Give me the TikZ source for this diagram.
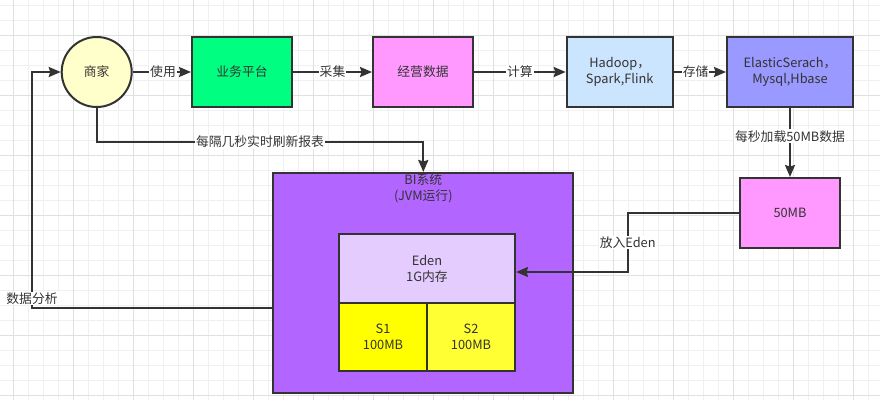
\documentclass[tikz,border=0pt]{standalone}
\usepackage{fontspec}
\setmainfont{Noto Sans CJK SC}
\usetikzlibrary{arrows.meta}
\definecolor{ink}{HTML}{333333}
\definecolor{gridminor}{HTML}{F0F0F0}
\definecolor{gridmajor}{HTML}{E0E0E0}
\definecolor{cshang}{HTML}{FFFFCC}
\definecolor{cyw}{HTML}{00FF80}
\definecolor{cpink}{HTML}{FF99FF}
\definecolor{chd}{HTML}{CCE5FF}
\definecolor{ces}{HTML}{9999FF}
\definecolor{cbi}{HTML}{B266FF}
\definecolor{ceden}{HTML}{E5CCFF}
\definecolor{csone}{HTML}{FFFF00}
\definecolor{cstwo}{HTML}{FFFF33}
\begin{document}
\begin{tikzpicture}[x=1pt,y=-1pt,
  txt/.style={font=\fontsize{12.8}{16}\selectfont, text=ink},
  box/.style={txt, draw=ink, line width=2pt, align=center, inner sep=0pt, rectangle},
  elabel/.style={txt, fill=white, inner sep=1pt},
  conn/.style={draw=ink, line width=2pt, -{Stealth[length=12pt,width=10pt,inset=1.5pt]}},
  line/.style={draw=ink, line width=2pt}]
\useasboundingbox (0,0) rectangle (880,400);
\begin{scope}
\clip (0,0) rectangle (880,400);
\fill[white] (0,0) rectangle (880,400);
\foreach \k in {0,...,59} { \draw[gridminor, line width=1pt] (-2+15*\k,0) -- (-2+15*\k,400); }
\foreach \k in {0,...,26} { \draw[gridminor, line width=1pt] (0,5+15*\k) -- (880,5+15*\k); }
\foreach \k in {0,...,14} { \draw[gridmajor, line width=1pt] (13+60*\k,0) -- (13+60*\k,400); }
\foreach \k in {0,...,6} { \draw[gridmajor, line width=1pt] (0,35+60*\k) -- (880,35+60*\k); }
\end{scope}

\node[txt, circle, draw=ink, line width=2pt, fill=cshang, minimum size=70pt, inner sep=0pt] (shang) at (96.7,72) {商家};
\node[box, fill=cyw, minimum width=100pt, minimum height=70pt] (yw) at (242,72) {业务平台};
\node[box, fill=cpink, minimum width=100pt, minimum height=70pt] (jy) at (423,72) {经营数据};
\node[box, fill=chd, minimum width=106pt, minimum height=70pt] (hd) at (619.7,72) {Hadoop，\\Spark,Flink};
\node[box, fill=ces, minimum width=126pt, minimum height=70pt] (es) at (790,72) {ElasticSerach，\\Mysql,Hbase};
\node[box, fill=cpink, minimum width=100pt, minimum height=70pt] (mb) at (790,213) {50MB};
\node[box, fill=cbi, minimum width=300pt, minimum height=220pt,
  label={[txt, anchor=north, inner sep=1pt, align=center]north:{BI系统\\(JVM运行)}}] (bi) at (423.3,283) {};
\node[box, fill=ceden, minimum width=176pt, minimum height=69pt] (eden) at (427,268.5) {Eden\\1G内存};
\node[box, fill=csone, minimum width=88pt, minimum height=68pt] (s1) at (383,337) {S1\\100MB};
\node[box, fill=cstwo, minimum width=88pt, minimum height=68pt] (s2) at (471,337) {S2\\100MB};

\draw[conn] (shang.east) -- node[elabel, pos=0.52] {使用} (yw.west);
\draw[conn] (yw.west -| yw.east) -- node[elabel] {采集} (jy.west);
\draw[conn] (jy.east) -- node[elabel] {计算} (hd.west);
\draw[conn] (hd.east) -- node[elabel, pos=0.42] {存储} (es.west);
\draw[conn] (es.south) -- node[elabel, pos=0.41] {每秒加载50MB数据} (mb.north);
\draw[conn] (shang.south) |- (bi.north |- 0,142) node[elabel, pos=0.75] {每隔几秒实时刷新报表} -- (bi.north);
\draw[conn] (mb.west) -| (627.7,272) node[elabel, pos=0.75] {放入Eden} -- (eden.east |- 627.7,272);
\draw[conn] ([yshift=-25pt]bi.west) -| (32,72) node[elabel, pos=0.52] {数据分析} -- (shang.west);
\end{tikzpicture}
\end{document}
